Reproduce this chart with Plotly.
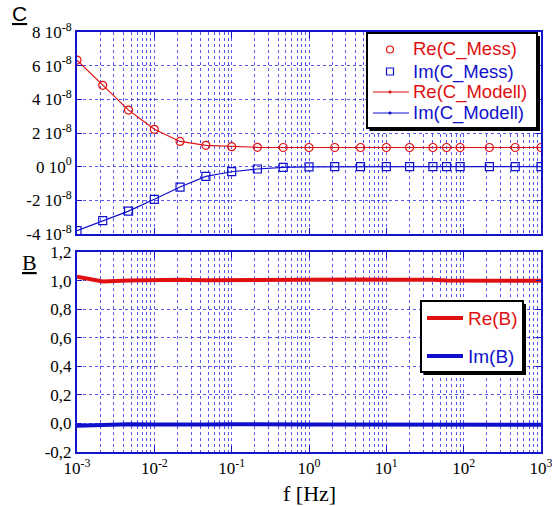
import plotly.graph_objects as go

# ---------------- data ----------------
freq = [1e-3, 2.15e-3, 4.64e-3, 1e-2, 2.15e-2, 4.64e-2, 0.1, 0.215, 0.464,
        1, 2.15, 4.64, 10, 20, 40, 60, 90, 215, 464, 1000]
re_c_mess = [6.33, 4.83, 3.36, 2.22, 1.50, 1.27, 1.19, 1.15, 1.14, 1.14,
             1.14, 1.14, 1.14, 1.14, 1.14, 1.14, 1.14, 1.14, 1.14, 1.14]
im_c_mess = [-3.80, -3.21, -2.64, -1.94, -1.21, -0.58, -0.30, -0.14, -0.04, -0.01,
             0.0, 0.0, 0.0, 0.0, 0.0, 0.0, 0.0, 0.0, 0.0, 0.0]
re_c_model = re_c_mess[:]
im_c_model = im_c_mess[:]
c_scale = 1e-8

re_b = [1.027, 0.994, 1.0, 1.003, 1.006, 1.002, 1.004, 1.001, 1.005, 1.006,
        1.007, 1.008, 1.005, 1.007, 1.006, 1.001, 0.999, 0.998, 0.998, 0.998]
im_b = [-0.016, -0.008, -0.006, -0.007, -0.004, -0.007, -0.005, -0.008, -0.008, -0.008,
        -0.008, -0.008, -0.008, -0.008, -0.008, -0.008, -0.009, -0.010, -0.012, -0.010]

x_tickvals = [1e-3, 1e-2, 1e-1, 1, 10, 100, 1000]
x_ticktext = ["10<sup>-3</sup>", "10<sup>-2</sup>", "10<sup>-1</sup>", "10<sup>0</sup>",
              "10<sup>1</sup>", "10<sup>2</sup>", "10<sup>3</sup>"]
c_tickvals = [-4e-8, -2e-8, 0, 2e-8, 4e-8, 6e-8, 8e-8]
c_ticktext = ["-4 10<sup>-8</sup>", "-2 10<sup>-8</sup>", "0 10<sup>0</sup>", "2 10<sup>-8</sup>",
              "4 10<sup>-8</sup>", "6 10<sup>-8</sup>", "8 10<sup>-8</sup>"]
b_tickvals = [-0.2, 0.0, 0.2, 0.4, 0.6, 0.8, 1.0, 1.2]
b_ticktext = ["-0,2", "0,0", "0,2", "0,4", "0,6", "0,8", "1,0", "1,2"]

# ---------------- styles ----------------
RED = "#e01010"
BLUE = "#1010cc"
AXC = "#1414c8"
GRIDC = "rgba(30,30,230,0.75)"
SERIF = "Liberation Serif"
SANS = "Liberation Sans"

W, H = 552, 506
# plot area in page pixel coordinates
L, R, T, B = 77, 541, 32, 452
PW, PH = R - L, B - T


def px(x):
    return (x - L) / PW


def py(y):
    return (B - y) / PH


minor_vals = [m * 10 ** e for e in range(-3, 3) for m in range(2, 10)]

fig = go.Figure()

fig.add_trace(go.Scatter(x=freq, y=[v * c_scale for v in re_c_model], mode="lines",
                         line=dict(color=RED, width=1.2), xaxis="x2", yaxis="y2",
                         name="Re(C_Modell)", showlegend=False))
fig.add_trace(go.Scatter(x=freq, y=[v * c_scale for v in im_c_model], mode="lines",
                         line=dict(color=BLUE, width=1.2), xaxis="x2", yaxis="y2",
                         name="Im(C_Modell)", showlegend=False))
fig.add_trace(go.Scatter(x=freq, y=[v * c_scale for v in re_c_mess], mode="markers",
                         marker=dict(symbol="circle-open", size=8, color=RED, line=dict(width=1.2)),
                         xaxis="x2", yaxis="y2", name="Re(C_Mess)", showlegend=False))
fig.add_trace(go.Scatter(x=freq, y=[v * c_scale for v in im_c_mess], mode="markers",
                         marker=dict(symbol="square-open", size=8, color=BLUE, line=dict(width=1.2)),
                         xaxis="x2", yaxis="y2", name="Im(C_Mess)", showlegend=False))

fig.add_trace(go.Scatter(x=freq, y=re_b, mode="lines", line=dict(color=RED, width=4),
                         xaxis="x", yaxis="y", name="Re(B)", showlegend=False))
fig.add_trace(go.Scatter(x=freq, y=im_b, mode="lines", line=dict(color=BLUE, width=4),
                         xaxis="x", yaxis="y", name="Im(B)", showlegend=False))

common_x = dict(type="log", range=[-3, 3], showline=True, linecolor=AXC, linewidth=2,
                mirror="allticks", ticks="inside", ticklen=6, tickcolor=AXC, tickwidth=1,
                showgrid=True, gridcolor=GRIDC, griddash="dot", gridwidth=1,
                tickmode="array", tickvals=x_tickvals, zeroline=False, automargin=False,
                ticklabeloverflow="allow",
                minor=dict(tickmode="array", tickvals=minor_vals, showgrid=True,
                           gridcolor=GRIDC, griddash="dot", gridwidth=1, ticks=""))
common_y = dict(showline=True, linecolor=AXC, linewidth=2, mirror="allticks",
                ticks="inside", ticklen=5, tickcolor=AXC, tickwidth=1,
                showgrid=True, gridcolor=GRIDC, griddash="dot", gridwidth=1,
                tickmode="array", zeroline=False, automargin=False,
                ticklabeloverflow="allow",
                tickfont=dict(family=SERIF, size=17, color="black"))

fig.update_layout(
    width=W, height=H,
    margin=dict(l=L, r=W - R, t=T, b=H - B, pad=0, autoexpand=False),
    paper_bgcolor="white", plot_bgcolor="white",
    showlegend=False,
    xaxis=dict(**common_x, ticktext=x_ticktext, anchor="y",
               tickfont=dict(family=SERIF, size=17, color="black")),
    yaxis=dict(**common_y, domain=[0, 200 / PH], range=[-0.2, 1.2],
               tickvals=b_tickvals, ticktext=b_ticktext, anchor="x"),
    xaxis2=dict(**common_x, showticklabels=False, anchor="y2", matches="x"),
    yaxis2=dict(**common_y, domain=[(B - 234) / PH, 1], range=[-4e-8, 8e-8],
                tickvals=c_tickvals, ticktext=c_ticktext, anchor="x2"),
)

shapes = []
annotations = []

# panel labels and axis title
annotations.append(dict(text="<u>C</u>", x=px(19), y=py(14), xref="paper", yref="paper",
                        showarrow=False, xanchor="center", yanchor="middle",
                        font=dict(family=SANS, size=21, color="black")))
annotations.append(dict(text="<u>B</u>", x=px(29), y=py(262), xref="paper", yref="paper",
                        showarrow=False, xanchor="center", yanchor="middle",
                        font=dict(family=SERIF, size=22, color="black")))
annotations.append(dict(text="f [Hz]", x=px(309), y=py(493), xref="paper", yref="paper",
                        showarrow=False, xanchor="center", yanchor="middle",
                        font=dict(family=SERIF, size=22, color="black")))


def legend_box(x0, y0, x1, y1):
    shapes.append(dict(type="rect", xref="paper", yref="paper", layer="above",
                       x0=px(x0 + 3), x1=px(x1 + 3), y0=py(y0 + 3), y1=py(y1 + 3),
                       fillcolor="black", line=dict(color="black", width=0)))
    shapes.append(dict(type="rect", xref="paper", yref="paper", layer="above",
                       x0=px(x0), x1=px(x1), y0=py(y0), y1=py(y1),
                       fillcolor="white", line=dict(color="black", width=2)))


def legend_text(text, x, y, color, size=18):
    annotations.append(dict(text=text, x=px(x), y=py(y), xref="paper", yref="paper",
                            showarrow=False, xanchor="left", yanchor="middle",
                            font=dict(family=SANS, size=size, color=color)))


def hline(x0, x1, y, color, width):
    shapes.append(dict(type="line", xref="paper", yref="paper", layer="above",
                       x0=px(x0), x1=px(x1), y0=py(y), y1=py(y),
                       line=dict(color=color, width=width)))


# top legend
legend_box(367, 33, 537, 128)
rows = [49.5, 71.5, 92, 113]
mx = 390
shapes.append(dict(type="circle", xref="paper", yref="paper", layer="above",
                   x0=px(mx - 3.5), x1=px(mx + 3.5), y0=py(rows[0] - 3.5), y1=py(rows[0] + 3.5),
                   line=dict(color=RED, width=1.2)))
shapes.append(dict(type="rect", xref="paper", yref="paper", layer="above",
                   x0=px(mx - 3.5), x1=px(mx + 3.5), y0=py(rows[1] - 3.5), y1=py(rows[1] + 3.5),
                   line=dict(color=BLUE, width=1.2)))
for r_, c_ in [(rows[2], RED), (rows[3], BLUE)]:
    hline(373, 409, r_, c_, 1.2)
    shapes.append(dict(type="circle", xref="paper", yref="paper", layer="above",
                       x0=px(mx - 1.3), x1=px(mx + 1.3), y0=py(r_ - 1.3), y1=py(r_ + 1.3),
                       fillcolor=c_, line=dict(color=c_, width=0.5)))
legend_text("Re(C_Mess)", 411, rows[0], RED, 18.5)
legend_text("Im(C_Mess)", 411, rows[1], BLUE, 18.5)
legend_text("Re(C_Modell)", 411, rows[2], RED, 18.5)
legend_text("Im(C_Modell)", 411, rows[3], BLUE, 18.5)

# bottom legend
legend_box(421, 301, 523, 372)
hline(427, 463, 318, RED, 4)
hline(427, 463, 356, BLUE, 4)
legend_text("Re(B)", 466, 318, RED, 19)
legend_text("Im(B)", 466, 356, BLUE, 19)

fig.update_layout(shapes=shapes, annotations=annotations)
fig.write_html("out.html", config={"displayModeBar": False},
               post_script="document.body.style.margin='0';document.body.style.overflow='hidden';")
